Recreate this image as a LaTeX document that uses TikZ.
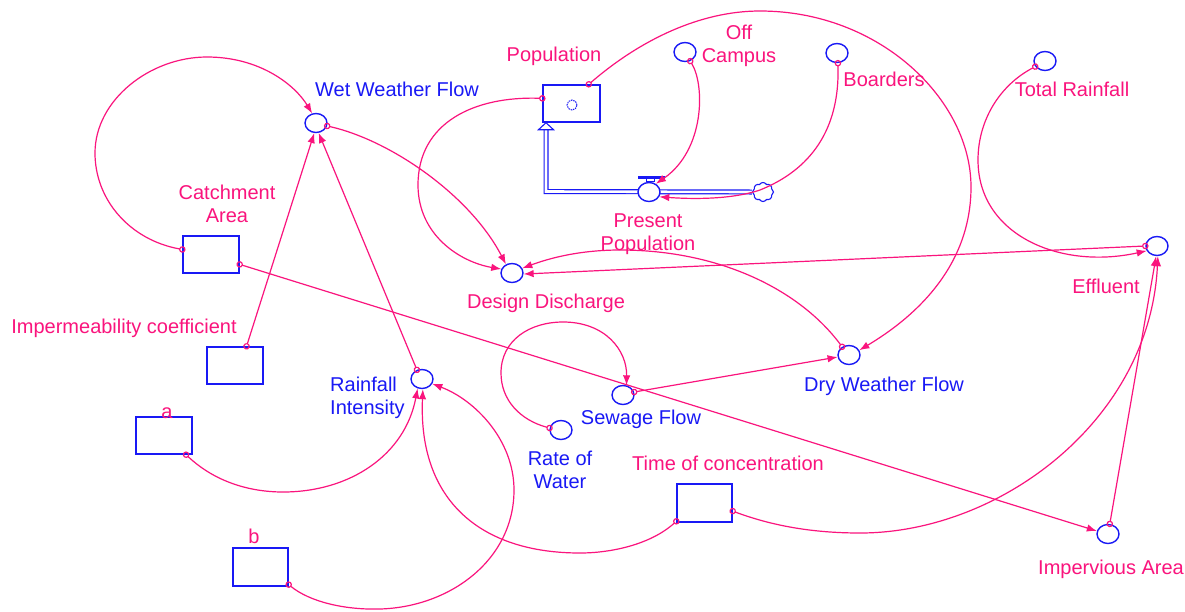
\documentclass[tikz,border=0pt]{standalone}
\usepackage{fontspec}
\setmainfont{Liberation Sans}
\usetikzlibrary{arrows.meta,shapes.geometric,shapes.symbols,calc}
\definecolor{cpink}{RGB}{250,20,125}
\definecolor{cblue}{RGB}{25,25,245}
\begin{document}
\begin{tikzpicture}[x=1pt,y=-1pt,
  aux/.style={draw=cblue,line width=1.4pt,ellipse,minimum width=22pt,minimum height=19pt,inner sep=0pt,fill=white},
  stock/.style={draw=cblue,line width=1.4pt,rectangle,minimum width=56pt,minimum height=37pt,inner sep=0pt},
  plbl/.style={text=cpink,font=\fontsize{20}{23}\selectfont,inner sep=0pt,align=center,anchor=base},
  blbl/.style={plbl,text=cblue},
  link/.style={draw=cpink,line width=1.2pt,{Circle[open,length=6.5pt,width=6.5pt]}-{Latex[length=10pt,width=7.5pt]},shorten <=-3.25pt},
  pipe/.style={draw=cblue,double=white,double distance=2.6pt,line width=1.2pt},
]
\useasboundingbox (0,0) rectangle (1185,611);
\fill[white] (0,0) rectangle (1185,611);

% nodes
\node[aux] (ww) at (316,123) {};
\node[stock,minimum width=57pt] (pop) at (571.5,103.5) {};
\draw[cblue,line width=1pt,dash pattern=on 1.5pt off 0.9pt] ($(pop.center)+(0.5,1.5)$) circle (5pt);
\node[aux] (oc) at (685,52) {};
\node[aux] (bo) at (837,53) {};
\node[aux] (tr) at (1045,61) {};
\node[cloud,draw=cblue,line width=1.1pt,cloud puffs=8,cloud puff arc=120,aspect=1.1,minimum width=21pt,minimum height=19pt,inner sep=0pt,fill=white] (cloud) at (763,192) {};
\coordinate (pc) at (546,191.5);
\coordinate (pa) at (546,129);
\draw[pipe] (cloud.west) -- (pc) -- (pa);
\draw[cblue,line width=1.1pt,fill=white] (pop.south -| pa) -- ++(7.5,7) -- ++(-15,0) -- cycle;
\node[aux] (valve) at (649,192) {};
\fill[cblue] ($(valve.north)+(-11,-5.8)$) rectangle ++(27,2.6);
\draw[cblue,line width=0.8pt] ($(valve.north)+(-3,-3.2)$) rectangle ($(valve.north)+(5,0)$);
\node[stock] (ca) at (211,254.5) {};
\node[aux] (dd) at (512,273) {};
\node[aux] (ef) at (1157,246) {};
\node[stock] (ic) at (235,365.5) {};
\node[aux] (ri) at (422,379) {};
\node[aux] (dwf) at (849,355) {};
\node[aux] (sf) at (623,395) {};
\node[aux] (rw) at (561,430) {};
\node[stock] (a) at (164,435.5) {};
\node[stock,minimum width=55pt,minimum height=38pt] (toc) at (704.5,503) {};
\node[aux] (ia) at (1108,534) {};
\node[stock,minimum width=55pt,minimum height=38pt] (b) at (260.5,567) {};

% labels
\node[blbl] (lww) at (397,96) {Wet Weather Flow};
\node[plbl] (lpop) at (554,61) {Population};
\node[plbl] (loc) at (739,62) {Off\\Campus};
\node[plbl] (lbo) at (884,86) {Boarders};
\node[plbl] (ltr) at (1072,96) {Total Rainfall};
\node[plbl] (lpp) at (648,250) {Present\\Population};
\node[plbl] (lca) at (227,222) {Catchment\\Area};
\node[plbl] (ldd) at (546,308) {Design Discharge};
\node[plbl] (lef) at (1106,293) {Effluent};
\node[plbl] (lic) at (124,333) {Impermeability coefficient};
\node[blbl,align=left,anchor=base west] (lri) at (330,414) {Rainfall\\Intensity};
\node[blbl] (ldwf) at (884,391) {Dry Weather Flow};
\node[blbl] (lsf) at (641,424) {Sewage Flow};
\node[blbl] (lrw) at (560,488) {Rate of\\Water};
\node[plbl] (la) at (167,418) {a};
\node[plbl] (ltoc) at (728,470) {Time of concentration};
\node[plbl] (lia) at (1111,574) {Impervious Area};
\node[plbl] (lb) at (254,543) {b};

% links
\draw[link] (ca.170) .. controls (130,240) and (95,200) .. (95,153) .. controls (95,100) and (150,57) .. (207,57) .. controls (260,57) and (295,85) .. (ww.112);
\draw[link] (ca.-19) -- (ia.165);
\draw[link] (ic.59) -- (ww.-100);
\draw[link] (ri.119) -- (ww.-75);
\draw[link] (ww.-15) .. controls (390,140) and (470,195) .. (dd.125);
\draw[link] (pop.170) .. controls (475,96) and (418,122) .. (418,185) .. controls (418,235) and (460,262) .. (dd.160);
\draw[link] (pop.48) .. controls (640,40) and (700,11) .. (760,11) .. controls (880,11) and (971,100) .. (971,187) .. controls (971,270) and (910,320) .. (dwf.25);
\draw[link] (oc.-60) .. controls (705,85) and (705,150) .. (valve.50);
\draw[link] (bo.-85) .. controls (840,130) and (810,170) .. (760,190) .. controls (730,200) and (690,199) .. (valve.-25);
\draw[link] (dwf.130) .. controls (800,290) and (720,250) .. (620,250) .. controls (580,250) and (550,258) .. (dd.25);
\draw[link] (ef.180) -- (dd.-5);
\draw[link] (tr.-150) .. controls (1000,85) and (978,120) .. (978,160) .. controls (978,235) and (1060,270) .. (ef.-155);
\draw[link] (ia.80) -- (ef.-95);
\draw[link] (toc.-16) .. controls (770,525) and (810,533) .. (860,533) .. controls (1000,533) and (1150,420) .. (ef.-85);
\draw[link] (sf.15) -- (dwf.-170);
\draw[link] (rw.170) .. controls (520,420) and (501,400) .. (501,373) .. controls (501,340) and (530,322) .. (563,322) .. controls (605,322) and (627,350) .. (sf.70);
\draw[link] (a.-41) .. controls (215,482) and (250,492) .. (283,492) .. controls (350,492) and (405,455) .. (ri.-115);
\draw[link] (b.-32) .. controls (310,602) and (345,610) .. (380,609) .. controls (450,607) and (514,560) .. (514,490) .. controls (514,440) and (475,400) .. (ri.-25);
\draw[link] (toc.-147) .. controls (650,545) and (610,553) .. (580,553) .. controls (480,553) and (418,500) .. (ri.-85);
\end{tikzpicture}
\end{document}
